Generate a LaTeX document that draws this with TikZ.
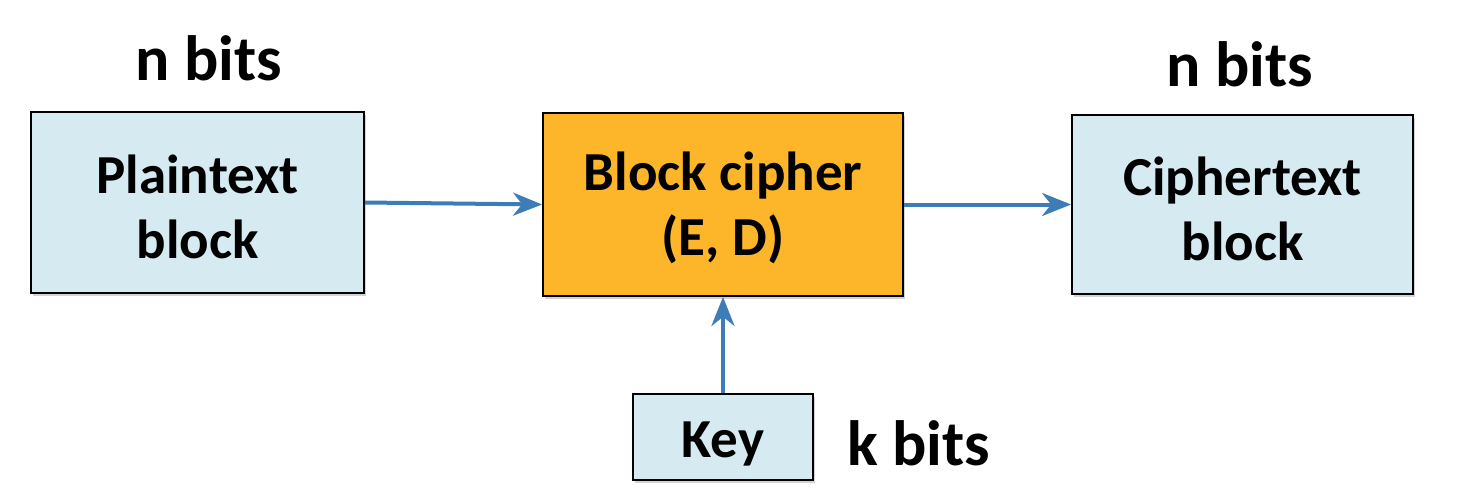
\documentclass[tikz,border=0pt]{standalone}
\usepackage{fontspec}
\setmainfont{Carlito}
\usetikzlibrary{arrows.meta,shadows}
\definecolor{boxblue}{HTML}{D5EAF1}
\definecolor{boxorange}{HTML}{FDB52A}
\definecolor{arrowblue}{HTML}{3E7CB8}
\tikzset{
  box/.style={draw=black, line width=1.8pt, inner sep=0pt,
    drop shadow={shadow xshift=2pt, shadow yshift=-3pt, opacity=0.35, fill=gray}},
  lightbox/.style={box, fill=boxblue},
  cipherbox/.style={box, fill=boxorange},
  boxtext/.style={inner sep=0pt, align=center, font=\fontsize{55}{65}\selectfont\bfseries},
  bitlabel/.style={font=\fontsize{64}{70}\selectfont\bfseries, inner sep=0pt},
  flow/.style={draw=arrowblue, line width=4pt,
    -{Stealth[length=29pt, width=23pt, inset=9pt]}}
}
\begin{document}
\begin{tikzpicture}[x=1pt, y=-1pt]
\useasboundingbox (0,0) rectangle (1474,503);
\node[lightbox, minimum width=333pt, minimum height=181pt] (plain) at (197.5,202.5) {};
\node[cipherbox, minimum width=360pt, minimum height=183pt] (cipher) at (723,204.5) {};
\node[lightbox, minimum width=341pt, minimum height=179pt] (ciph) at (1242.5,204.5) {};
\node[lightbox, minimum width=180pt, minimum height=86pt] (key) at (723,437) {};
\node[boxtext] (plaint) at ([yshift=-4pt]plain.center) {Plaintext\\block};
\node[boxtext] (ciphert) at ([yshift=-3pt]cipher.center) {Block cipher\\(E, D)};
\node[boxtext] (cipht) at ([yshift=-4pt]ciph.center) {Ciphertext\\block};
\node[boxtext] (keyt) at ([yshift=-7pt]key.center) {Key};
\node[bitlabel, anchor=base] (n1) at (209,80) {n bits};
\node[bitlabel, anchor=base] (n2) at (1240,86) {n bits};
\node[bitlabel, anchor=base west] (kb) at (847,465) {k bits};
\draw[flow] (plain.east) -- (cipher.west);
\draw[flow] (cipher.east) -- (ciph.west);
\draw[flow] (key.north) -- (cipher.south);
\end{tikzpicture}
\end{document}
